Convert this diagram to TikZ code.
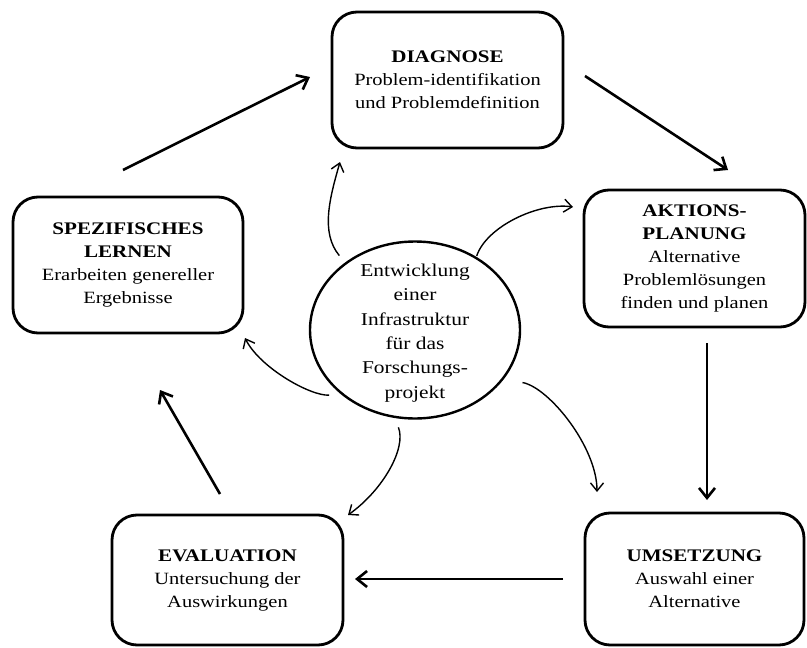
\documentclass[tikz,border=0pt]{standalone}
\usepackage{fontspec}
\setmainfont[FakeStretch=1.19]{Liberation Serif}
\usetikzlibrary{arrows.meta,shapes.geometric}
\newcommand\hdr[1]{{\bfseries\fontsize{17.7}{23}\selectfont #1}}
\begin{document}
\begin{tikzpicture}[x=1pt,y=-1pt,
  box/.style={draw, line width=2.8pt, rounded corners=25pt, align=center, inner sep=0pt, font=\fontsize{17.2}{23}\selectfont},
  bigarrow/.style={line width=2.6pt, -{Straight Barb[length=10pt,width=16pt]}},
  smallarrow/.style={line width=1.4pt, -{Straight Barb[length=8pt,width=13pt]}}]
\useasboundingbox (0,0) rectangle (807,648);

\node[box, minimum width=231pt, minimum height=136pt] (diag) at (447.5,80)
  {\hdr{DIAGNOSE}\\Problem-identifikation\\und Problemdefinition};
\node[box, minimum width=221pt, minimum height=137pt] (akt) at (694.5,258.5)
  {\hdr{AKTIONS-}\\\hdr{PLANUNG}\\Alternative\\Problemlösungen\\finden und planen};
\node[box, minimum width=230pt, minimum height=136pt] (spez) at (128,265)
  {\hdr{SPEZIFISCHES}\\\hdr{LERNEN}\\Erarbeiten genereller\\Ergebnisse};
\node[box, minimum width=231pt, minimum height=130pt] (evalbox) at (227.5,580)
  {\hdr{EVALUATION}\\Untersuchung der\\Auswirkungen};
\node[box, minimum width=219pt, minimum height=132pt] (ums) at (694.5,579)
  {\hdr{UMSETZUNG}\\Auswahl einer\\Alternative};

\node[draw, ellipse, line width=2.4pt, minimum width=210pt, minimum height=177pt, inner sep=0pt] (circ) at (415,330) {};
\node[align=center, font=\fontsize{18}{24.4}\selectfont, inner sep=0pt] (circtxt) at (415,333)
  {Entwicklung\\einer\\Infrastruktur\\für das\\Forschungs-\\projekt};

% straight cycle arrows
\coordinate (a1s) at (123,170); \coordinate (a1e) at (310,77);
\coordinate (a2s) at (585,76);  \coordinate (a2e) at (728,170);
\coordinate (a3s) at (707,343); \coordinate (a3e) at (707,500);
\coordinate (a4s) at (563,579); \coordinate (a4e) at (355,579);
\coordinate (a5s) at (220,494); \coordinate (a5e) at (160,390);
\draw[bigarrow] (a1s) -- (a1e);
\draw[bigarrow] (a2s) -- (a2e);
\draw[bigarrow] (a3s) -- (a3e);
\draw[bigarrow] (a4s) -- (a4e);
\draw[bigarrow] (a5s) -- (a5e);

% curved arrows from the centre
\coordinate (e1) at (340,162);
\coordinate (e2) at (573,207);
\coordinate (e3) at (245,338);
\coordinate (e4) at (348,515);
\coordinate (e5) at (597,492);
\draw[smallarrow, shorten <=9pt] (circ.136) .. controls +(-25,-30) and +(-10,35) .. (e1);
\draw[smallarrow, shorten <=1pt] (circ.50) .. controls +(10,-30) and +(-35,-5) .. (e2);
\draw[smallarrow, shorten <=12pt] (circ.221) .. controls +(-30,2) and +(15,30) .. (e3);
\draw[smallarrow, shorten <=10pt] (circ.257) .. controls +(12,30) and +(35,-25) .. (e4);
\draw[smallarrow, shorten <=19pt] (circ.331) .. controls +(45,8) and +(0,-45) .. (e5);
\end{tikzpicture}
\end{document}
